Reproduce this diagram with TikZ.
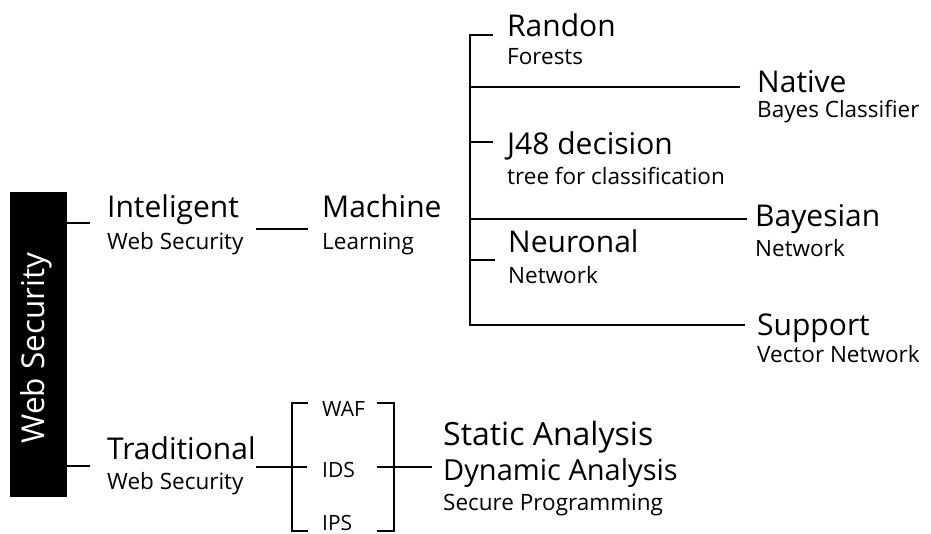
\documentclass[tikz,border=0pt]{standalone}
\usepackage{fontspec}
\setmainfont{Open Sans}
\begin{document}
\begin{tikzpicture}[x=1pt,y=-1pt,
  ttl/.style={anchor=base west, inner sep=0pt, font=\fontsize{30}{30}\selectfont},
  sub/.style={anchor=base west, inner sep=0pt, font=\fontsize{22.5}{22.5}\selectfont},
  big/.style={anchor=base west, inner sep=0pt, font=\fontsize{30}{30}\selectfont},
  tool/.style={anchor=base west, inner sep=0pt, font=\fontsize{21}{21}\selectfont},
  conn/.style={line width=2.2pt}]
\useasboundingbox (0,0) rectangle (931,534);

% root bar
\node[fill=black, minimum width=57pt, minimum height=305pt, inner sep=0pt,
      anchor=north west] (bar) at (10,192) {};
\node[rotate=90, text=white, inner sep=0pt, font=\fontsize{31.5}{31.5}\selectfont]
      (barlbl) at (36,348) {Web Security};

% first level
\node[ttl] (intel) at (107,218) {Inteligent};
\node[sub] (intelsub) at (107,250) {Web Security};
\node[ttl] (trad) at (107,459) {Traditional};
\node[sub] (tradsub) at (107,489) {Web Security};

\coordinate (ia) at (90,223);
\coordinate (ta) at (90,466);
\draw[conn] (bar.east |- ia) -- (ia);
\draw[conn] (bar.east |- ta) -- (ta);

% machine learning branch
\node[ttl] (ml) at (322,218) {Machine};
\node[sub] (mlsub) at (322,250) {Learning};
\coordinate (ml0) at (256,229);
\coordinate (ml1) at (308,229);
\draw[conn] (ml0) -- (ml1);

\node[ttl] (rf) at (507,37) {Randon};
\node[sub] (rfsub) at (507,65) {Forests};
\node[ttl] (nb) at (757,93) {Native};
\node[sub] (nbsub) at (757,118) {Bayes Classifier};
\node[ttl] (j48) at (507,155) {J48 decision};
\node[sub] (j48sub) at (507,185) {tree for classification};
\node[ttl] (bn) at (755,227) {Bayesian};
\node[sub] (bnsub) at (755,257) {Network};
\node[ttl] (nn) at (508,253) {Neuronal};
\node[sub] (nnsub) at (508,284) {Network};
\node[ttl] (sv) at (757,335) {Support};
\node[sub] (svsub) at (757,362) {Vector Network};

\coordinate (mtop) at (470,35);
\coordinate (mbot) at (470,325);
\coordinate (rfend) at (493,35);
\coordinate (nbend) at (740,87);
\coordinate (j4end) at (493,142);
\coordinate (bnend) at (747,219);
\coordinate (nnend) at (495,260);
\coordinate (svend) at (745,325);
\draw[conn] (rfend) -- (mtop) -- (mbot) -- (svend);
\draw[conn] (mtop |- nbend) -- (nbend);
\draw[conn] (mtop |- j4end) -- (j4end);
\draw[conn] (mtop |- bnend) -- (bnend);
\draw[conn] (mtop |- nnend) -- (nnend);

% traditional branch
\node[tool] (waf) at (322,416) {WAF};
\node[tool] (ids) at (322,477) {IDS};
\node[tool] (ips) at (322,530) {IPS};

\coordinate (lbt) at (292,403);
\coordinate (lbb) at (292,531);
\coordinate (rbt) at (394,403);
\coordinate (rbb) at (394,531);
\coordinate (tr0) at (256,467);
\coordinate (tr1) at (307,467);
\coordinate (ou0) at (377,467);
\coordinate (ou1) at (432,467);
\draw[conn] (308,403) -- (lbt) -- (lbb) -- (308,531);
\draw[conn] (377,403) -- (rbt) -- (rbb) -- (377,531);
\draw[conn] (tr0) -- (tr1);
\draw[conn] (ou0) -- (ou1);

\node[big, font=\fontsize{32}{32}\selectfont] (sa) at (443,445) {Static Analysis};
\node[big, font=\fontsize{29}{29}\selectfont] (da) at (443,480) {Dynamic Analysis};
\node[sub] (sp) at (443,510) {Secure Programming};
\end{tikzpicture}
\end{document}
